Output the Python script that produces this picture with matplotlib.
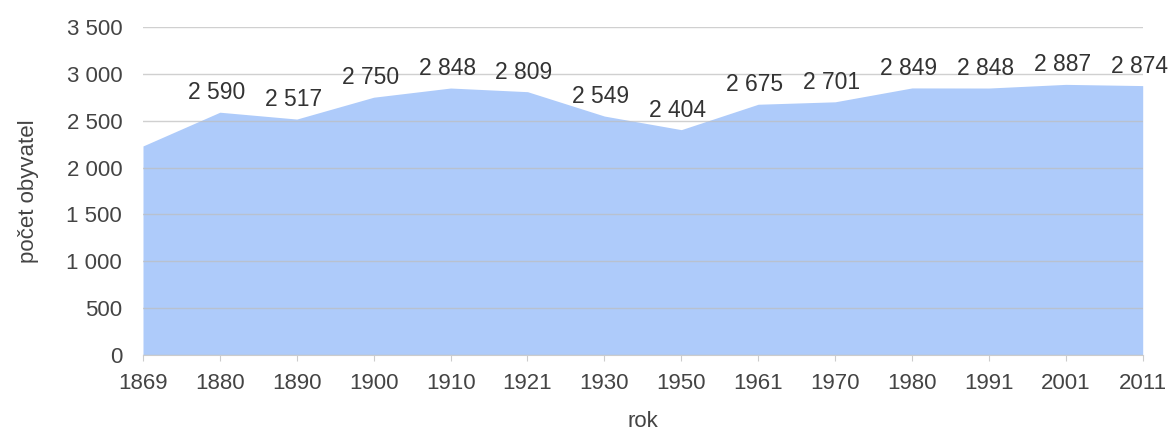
import matplotlib
matplotlib.use("Agg")
import matplotlib.pyplot as plt
import numpy as np

years = ["1869", "1880", "1890", "1900", "1910", "1921", "1930", "1950",
         "1961", "1970", "1980", "1991", "2001", "2011"]
population = [2230, 2590, 2517, 2750, 2848, 2809, 2549, 2404,
              2675, 2701, 2849, 2848, 2887, 2874]
show_label = [False] + [True] * 13
yticks = [0, 500, 1000, 1500, 2000, 2500, 3000, 3500]

plt.rcParams['font.family'] = ['Liberation Sans', 'DejaVu Sans']

fig = plt.figure(figsize=(11.72, 4.34), dpi=100)
ax = fig.add_axes([0.122, 0.182, 0.853, 0.756])

x = np.arange(len(years))
ax.fill_between(x, population, 0, color="#aecbfa", linewidth=0, zorder=1)

for yt in yticks:
    ax.axhline(yt, color="#bdbdbd", linewidth=1, zorder=2, alpha=0.7)

def fmt(v):
    return f"{v:,}".replace(",", " ")

for xi, v, s in zip(x, population, show_label):
    if s:
        ax.annotate(fmt(v), (xi, v), xytext=(-2.5, 14), textcoords="offset points",
                    ha="center", va="center", fontsize=16.5, color="#333333", zorder=3,
                    annotation_clip=False)

ax.set_xlim(0, len(years) - 1)
ax.set_ylim(0, 3500)
ax.set_xticks(x)
ax.set_xticklabels(years)
ax.set_yticks(yticks)
ax.set_yticklabels([fmt(v) for v in yticks])
ax.tick_params(axis="both", labelsize=16, colors="#444444")
ax.tick_params(axis="y", length=0, pad=15)
ax.tick_params(axis="x", length=4, color="#cccccc", pad=9)
for sp in ["top", "right", "left"]:
    ax.spines[sp].set_visible(False)
ax.spines["bottom"].set_color("#cccccc")

ax.set_xlabel("rok", fontsize=16, color="#444444", labelpad=12)
ax.set_ylabel("počet obyvatel", fontsize=16, color="#444444", labelpad=20)

fig.savefig("out.png", dpi=100)
